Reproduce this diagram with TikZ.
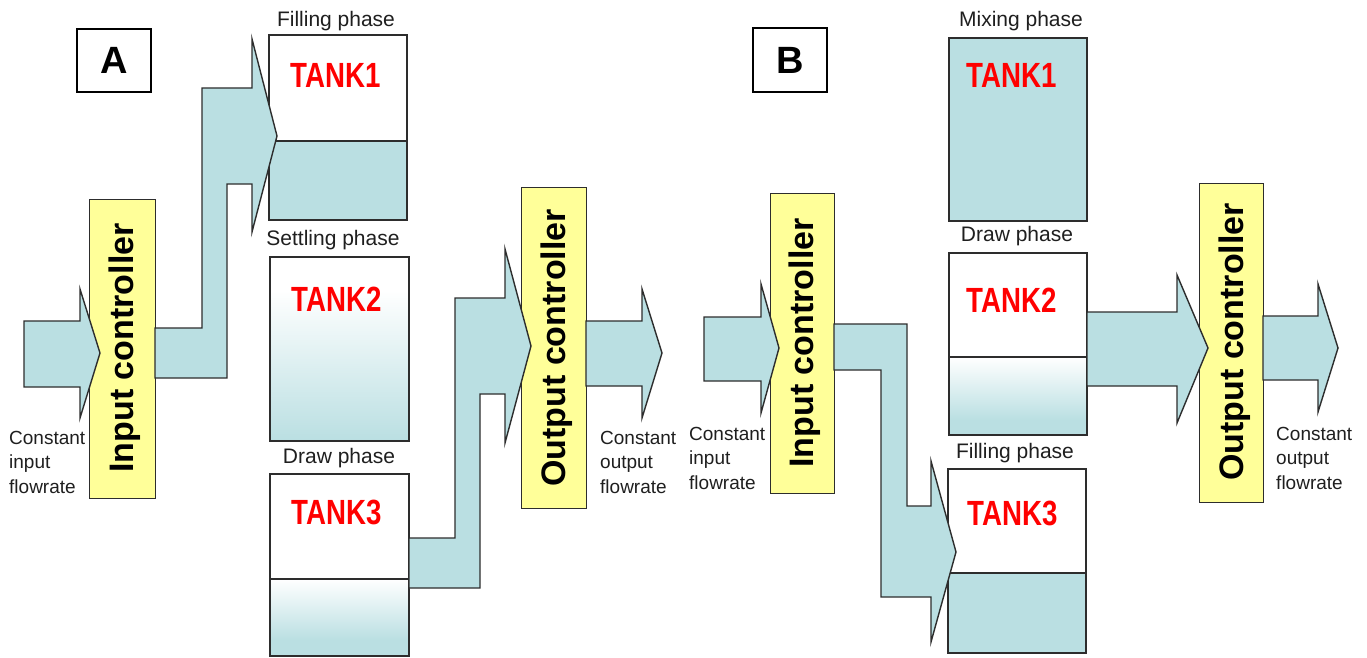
\documentclass[tikz,border=0pt]{standalone}
\usepackage{fontspec}
\setmainfont{Liberation Sans}
\definecolor{tankblue}{RGB}{186,223,226}
\definecolor{ctrlyellow}{RGB}{255,255,153}
\definecolor{edgegray}{RGB}{45,45,45}
\tikzset{
  tankline/.style={draw=edgegray, line width=1.6pt},
  blockarrow/.style={fill=tankblue, draw=edgegray, line width=1.4pt, line join=miter},
  ctrlbox/.style={fill=ctrlyellow, draw=edgegray, line width=1.4pt},
  phase/.style={anchor=base, text=black!88, font=\fontsize{21}{25}\selectfont},
  tanklabel/.style={anchor=base, text=red, font=\fontsize{35}{40}\selectfont\bfseries},
  flowtext/.style={anchor=north west, text=black!88, align=left, inner sep=0pt, font=\fontsize{19}{24.5}\selectfont},
  ctrltext/.style={anchor=base, rotate=90, inner sep=0pt, font=\fontsize{34}{40}\selectfont\bfseries},
  letterbox/.style={draw=black, line width=2pt, fill=white, inner sep=0pt, font=\fontsize{38}{40}\selectfont\bfseries}
}
\begin{document}
\begin{tikzpicture}[x=1pt,y=-1pt]
\useasboundingbox[fill=white] (0,0) rectangle (1367,658);

% ================= Panel A =================
\node[letterbox, minimum width=74, minimum height=63, anchor=north west] (boxA) at (76,28) {A};

% Tank 1 A (filling)
\fill[tankblue] (269,141) rectangle (407,220);
\draw[tankline] (269,35) rectangle (407,220);
\draw[tankline] (269,141) -- (407,141);
\node[phase] (phA1) at (336,27) {Filling phase};
\node[tanklabel] (tA1) at (336,88) {\scalebox{0.79}[1]{TANK1}};

% Tank 2 A (settling)
\fill[white] (270,257) rectangle (409,441);
\shade[top color=white, bottom color=tankblue] (270,290) rectangle (409,441);
\draw[tankline] (270,257) rectangle (409,441);
\node[phase] (phA2) at (333,245) {Settling phase};
\node[tanklabel] (tA2) at (337,311) {\scalebox{0.79}[1]{TANK2}};

% Tank 3 A (draw)
\shade[top color=white, bottom color=tankblue] (270,579) rectangle (409,640);
\fill[tankblue] (270,640) rectangle (409,656);
\draw[tankline] (270,474) rectangle (409,656);
\draw[tankline] (270,579) -- (409,579);
\node[phase] (phA3) at (339,463) {Draw phase};
\node[tanklabel] (tA3) at (337,524) {\scalebox{0.79}[1]{TANK3}};

% Input controller A
\node[ctrlbox, minimum width=66, minimum height=299, anchor=north west, inner sep=0pt] (inA) at (89,199) {};
\node[ctrltext] (inAt) at (133,348) {Input controller};

% Output controller A
\node[ctrlbox, minimum width=65, minimum height=321, anchor=north west, inner sep=0pt] (outA) at (521,187) {};
\node[ctrltext] (outAt) at (565,348) {Output controller};

% Arrows A
\draw[blockarrow] (24,321) -- (80,321) -- (80,289) -- (100,353) -- (80,418) -- (80,387) -- (24,387) -- cycle;
\draw[blockarrow] (155,328) -- (202,328) -- (202,88) -- (252,88) -- (252,39) -- (277,136) -- (252,232) -- (252,184) -- (227,184) -- (227,378) -- (155,378) -- cycle;
\draw[blockarrow] (409,538) -- (455,538) -- (455,298) -- (505,298) -- (505,249) -- (531,346) -- (505,443) -- (505,394) -- (480,394) -- (480,588) -- (409,588) -- cycle;
\draw[blockarrow] (586,321) -- (642,321) -- (642,289) -- (662,353) -- (642,418) -- (642,386) -- (586,386) -- cycle;

\node[flowtext] (cinA) at (9,431) {Constant\\input\\flowrate};
\node[flowtext] (coutA) at (600,431) {Constant\\output\\flowrate};

% ================= Panel B =================
\node[letterbox, minimum width=74, minimum height=64, anchor=north west] (boxB) at (752,27) {B};

% Tank 1 B (mixing)
\fill[tankblue] (949,38) rectangle (1087,221);
\draw[tankline] (949,38) rectangle (1087,221);
\node[phase] (phB1) at (1021,27) {Mixing phase};
\node[tanklabel] (tB1) at (1012,88) {\scalebox{0.79}[1]{TANK1}};

% Tank 2 B (draw)
\shade[top color=white, bottom color=tankblue] (949,357) rectangle (1087,420);
\fill[tankblue] (949,420) rectangle (1087,435);
\draw[tankline] (949,253) rectangle (1087,435);
\draw[tankline] (949,357) -- (1087,357);
\node[phase] (phB2) at (1017,241) {Draw phase};
\node[tanklabel] (tB2) at (1012,312) {\scalebox{0.79}[1]{TANK2}};

% Tank 3 B (filling)
\fill[tankblue] (948,573) rectangle (1086,653);
\draw[tankline] (948,469) rectangle (1086,653);
\draw[tankline] (948,573) -- (1086,573);
\node[phase] (phB3) at (1015,458) {Filling phase};
\node[tanklabel] (tB3) at (1013,525) {\scalebox{0.79}[1]{TANK3}};

% Input controller B
\node[ctrlbox, minimum width=64, minimum height=300, anchor=north west, inner sep=0pt] (inB) at (770,193) {};
\node[ctrltext] (inBt) at (813,343) {Input controller};

% Output controller B
\node[ctrlbox, minimum width=64, minimum height=319, anchor=north west, inner sep=0pt] (outB) at (1199,183) {};
\node[ctrltext] (outBt) at (1243,342) {Output controller};

% Arrows B
\draw[blockarrow] (704,317) -- (761,317) -- (761,284) -- (779,348) -- (761,413) -- (761,381) -- (704,381) -- cycle;
\draw[blockarrow] (834,324) -- (907,324) -- (907,506) -- (931,506) -- (931,461) -- (956,552) -- (931,642) -- (931,597) -- (881,597) -- (881,370) -- (834,370) -- cycle;
\draw[blockarrow] (1087,312) -- (1177,312) -- (1177,275) -- (1208,348) -- (1177,423) -- (1177,386) -- (1087,386) -- cycle;
\draw[blockarrow] (1263,316) -- (1318,316) -- (1318,284) -- (1338,348) -- (1318,412) -- (1318,380) -- (1263,380) -- cycle;

\node[flowtext] (cinB) at (689,427) {Constant\\input\\flowrate};
\node[flowtext] (coutB) at (1276,427) {Constant\\output\\flowrate};
\end{tikzpicture}
\end{document}
